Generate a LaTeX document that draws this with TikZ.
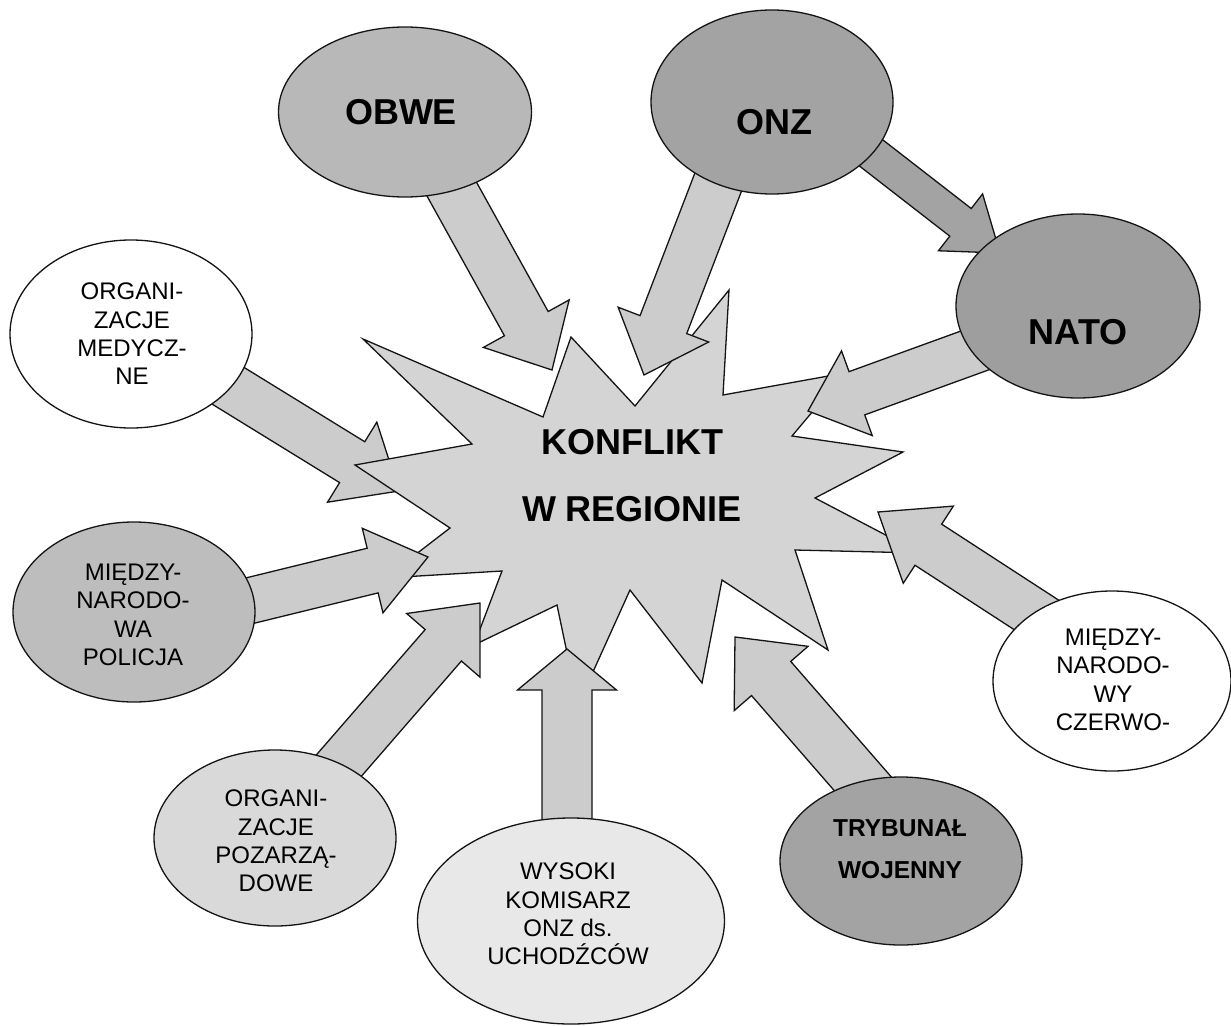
\documentclass[tikz,border=0pt]{standalone}
\usepackage{fontspec}
\setmainfont{Liberation Sans}
\usetikzlibrary{calc,shapes.geometric}
\definecolor{starfill}{gray}{0.83}
\definecolor{arrowfill}{gray}{0.80}
\definecolor{arrowdark}{gray}{0.64}
\definecolor{obwefill}{gray}{0.72}
\definecolor{onzfill}{gray}{0.64}
\definecolor{natofill}{gray}{0.62}
\definecolor{trybfill}{gray}{0.64}
\definecolor{polfill}{gray}{0.74}
\definecolor{pozfill}{gray}{0.85}
\definecolor{wysfill}{gray}{0.91}
\definecolor{edge}{gray}{0.08}
% #2 tail, #3 tip, #4 shaft half-width, #5 head half-width, #6 head length
\newcommand\blockarr[6][]{%
  \coordinate (ba-b) at ($(#3)!#6!(#2)$);
  \draw[arr,#1] ($(#2)!#4!90:(#3)$) -- ($(ba-b)!#4!90:(#3)$) -- ($(ba-b)!#5!90:(#3)$)
    -- (#3) -- ($(ba-b)!#5!-90:(#3)$) -- ($(ba-b)!#4!-90:(#3)$) -- ($(#2)!#4!-90:(#3)$) -- cycle;
}
\begin{document}
\begin{tikzpicture}[x=1pt,y=-1pt,
  ell/.style={ellipse, draw=edge, line width=1.3pt, inner sep=0pt},
  arr/.style={draw=edge, line width=1.3pt, line join=miter, fill=arrowfill},
  lbl/.style={align=center, font=\fontsize{24}{28.3}\selectfont, inner sep=0pt},
  big/.style={align=center, font=\bfseries\fontsize{36}{67}\selectfont, inner sep=0pt}]
\useasboundingbox[fill=white] (0,0) rectangle (1231,1025);

% ellipse centres
\coordinate (c-obwe) at (405,112);
\coordinate (c-onz) at (772,102);
\coordinate (c-nato) at (1078,306);
\coordinate (c-med) at (131,334);
\coordinate (c-pol) at (134,612);
\coordinate (c-poz) at (275,838);
\coordinate (c-wys) at (571,921);
\coordinate (c-tryb) at (901,861);
\coordinate (c-czer) at (1112,681);

% arrow tails (inside the ellipses) and tips
\coordinate (t-obwe) at (409,112);   \coordinate (h-obwe) at (552,370);
\coordinate (t-onz) at (749,102);    \coordinate (h-onz) at (644,375);
\coordinate (t-onzn) at (772,76);    \coordinate (h-onzn) at (1000,253);
\coordinate (t-nato) at (1078,313);  \coordinate (h-nato) at (808,411);
\coordinate (t-czer) at (1112,664);  \coordinate (h-czer) at (878,512);
\coordinate (t-tryb) at (930,861);   \coordinate (h-tryb) at (735,637);
\coordinate (t-wys) at (567,921);    \coordinate (h-wys) at (567,649);
\coordinate (t-poz) at (276,838);    \coordinate (h-poz) at (480,603);
\coordinate (t-pol) at (134,629);    \coordinate (h-pol) at (428,557);
\coordinate (t-med) at (131,326);    \coordinate (h-med) at (399,491);

% arrow lying under the star
\blockarr{t-med}{h-med}{24pt}{47pt}{55pt}

% the star
\draw[fill=starfill, draw=edge, line width=1.3pt, line join=miter]
  (363,339) -- (543,417) -- (571,337) -- (635,406) -- (729,290) -- (723,395)
  -- (845,373) -- (792,436) -- (903,452) -- (815,498) -- (920,553) -- (795,550)
  -- (828,650) -- (722,580) -- (702,683) -- (630,590) -- (578,705) -- (557,605)
  -- (474,645) -- (502,571) -- (385,578) -- (450,528) -- (355,465) -- (472,444) -- cycle;
\node[big] (konf) at (632,476) {KONFLIKT\\W REGIONIE};

% arrows above the star
\blockarr{t-obwe}{h-obwe}{25pt}{49pt}{53pt}
\blockarr{t-onz}{h-onz}{25pt}{48.5pt}{54pt}
\blockarr[fill=arrowdark]{t-onzn}{h-onzn}{17.5pt}{36pt}{50pt}
\blockarr{t-nato}{h-nato}{23pt}{45pt}{52pt}
\blockarr{t-czer}{h-czer}{24.5pt}{46pt}{60pt}
\blockarr{t-tryb}{h-tryb}{26pt}{49pt}{55pt}
\blockarr{t-wys}{h-wys}{25pt}{49.5pt}{41pt}
\blockarr{t-poz}{h-poz}{24pt}{48.5pt}{56pt}
\blockarr{t-pol}{h-pol}{23pt}{43.5pt}{57pt}

% ellipses
\node[ell, fill=obwefill, minimum width=253pt, minimum height=170pt] (obwe) at (c-obwe) {};
\node[ell, fill=onzfill, minimum width=242pt, minimum height=184pt] (onz) at (c-onz) {};
\node[ell, fill=natofill, minimum width=244pt, minimum height=184pt] (nato) at (c-nato) {};
\node[ell, fill=white, minimum width=242pt, minimum height=188pt] (med) at (c-med) {};
\node[ell, fill=polfill, minimum width=242pt, minimum height=180pt] (pol) at (c-pol) {};
\node[ell, fill=pozfill, minimum width=242pt, minimum height=176pt] (poz) at (c-poz) {};
\node[ell, fill=wysfill, minimum width=307pt, minimum height=206pt] (wys) at (c-wys) {};
\node[ell, fill=trybfill, minimum width=242pt, minimum height=168pt] (tryb) at (c-tryb) {};
\node[ell, fill=white, minimum width=238pt, minimum height=180pt] (czer) at (c-czer) {};

% labels
\node[big] (obwe-t) at (401,112) {OBWE};
\node[big] (onz-t) at (774,122) {ONZ};
\node[big] (nato-t) at (1078,332) {NATO};
\node[lbl] (med-t) at (132,334) {ORGANI-\\ZACJE\\MEDYCZ-\\NE};
\node[lbl] (pol-t) at (133,615) {MIĘDZY-\\NARODO-\\WA\\POLICJA};
\node[lbl] (poz-t) at (276,841) {ORGANI-\\ZACJE\\POZARZĄ-\\DOWE};
\node[lbl] (wys-t) at (568,914) {WYSOKI\\KOMISARZ\\ONZ ds.\\UCHODŹCÓW};
\node[align=center, inner sep=0pt, font=\bfseries\fontsize{24.5}{42}\selectfont] (tryb-t) at (900,849) {TRYBUNAŁ\\WOJENNY};
\node[lbl] (czer-t) at (1113,680) {MIĘDZY-\\NARODO-\\WY\\CZERWO-};
\end{tikzpicture}
\end{document}
